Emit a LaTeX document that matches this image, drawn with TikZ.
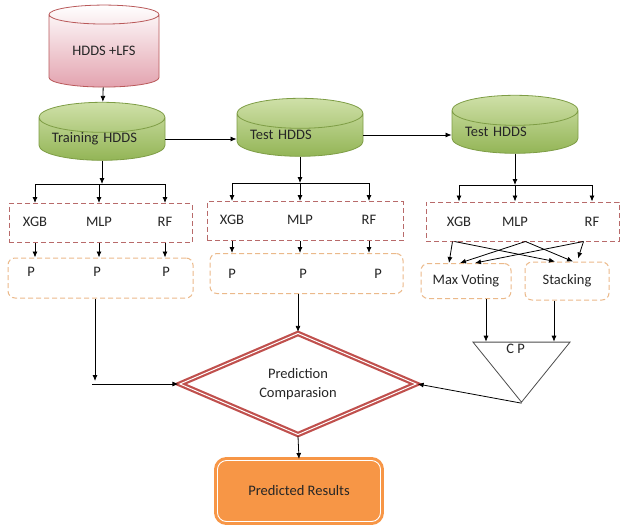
\documentclass[tikz,border=0pt]{standalone}
\usepackage{fontspec}
\setmainfont{Carlito}
\usetikzlibrary{shapes.geometric,arrows.meta}

\definecolor{pinkdb}{HTML}{E3A3AF}
\definecolor{reddb}{HTML}{B9595A}
\definecolor{greentop}{HTML}{CFE0A8}
\definecolor{greendb}{HTML}{93B556}
\definecolor{greenline}{HTML}{7E9D45}
\definecolor{modeldash}{HTML}{B86A6A}
\definecolor{preddash}{HTML}{EBB98A}
\definecolor{cmpred}{HTML}{C0504D}
\definecolor{resorange}{HTML}{F79646}
\definecolor{textgrey}{HTML}{262626}

\tikzset{
    >={Latex[length=6pt,width=5pt]},
    every node/.style={font=\fontsize{14.5}{19}\selectfont, text=textgrey},
    db/.style={cylinder, shape border rotate=90, aspect=0.3, inner sep=0pt,
        minimum width=126pt, minimum height=58pt},
    pinkdb/.style={db, minimum width=110pt, minimum height=82pt,
        draw=reddb, top color=white, bottom color=pinkdb},
    greendb/.style={db, draw=greenline, top color=greentop, bottom color=greendb,
        text width=100pt, align=left},
    mbox/.style={draw=modeldash, dash pattern=on 5pt off 3pt, line width=1pt,
        minimum height=39pt},
    pbox/.style={draw=preddash, dash pattern=on 5pt off 3pt, line width=1pt,
        rounded corners=7pt, minimum height=40pt},
    lbl/.style={inner sep=1pt},
    cmp/.style={diamond, aspect=2.3, inner sep=0pt, minimum width=237pt,
        minimum height=102pt, align=center, draw=cmpred, line width=2.2pt,
        double=white, double distance=1pt},
    cpshape/.style={isosceles triangle, shape border rotate=270,
        isosceles triangle stretches, minimum width=97pt, minimum height=60pt,
        inner sep=0pt, draw=black!70, line width=0.8pt},
    res/.style={rounded corners=9pt, fill=resorange, draw=resorange,
        line width=3pt, double=white, double distance=0.9pt,
        minimum width=163pt, minimum height=61pt}
}

\begin{document}
\begin{tikzpicture}[x=1pt,y=-1pt,line width=0.8pt]
            \useasboundingbox (0,0) rectangle (622,528);

            % data sets
            \node[pinkdb] (lfs) at (104,51) {HDDS +LFS};
            \node[greendb] (trn) at (102,139) {Training HDDS};
            \node[greendb] (tst1) at (300,135) {Test HDDS};
            \node[greendb] (tst2) at (515,132) {Test HDDS};

            \draw[->] (lfs) to (trn);
            \draw[->] (trn.east) to (trn.east -| tst1.west);
            \draw[->] (tst1.east) to (tst1.east -| tst2.west);

            % column 1
            \node[mbox, minimum width=183pt] (mb1) at (100.5,223) {};
            \node[lbl] (xgb1) at (35,222) {XGB};
            \node[lbl] (mlp1) at (99,222) {MLP};
            \node[lbl] (rf1) at (165,222) {RF};
            \node[pbox, minimum width=185pt] (pb1) at (100.5,278) {};
            \node[lbl] (p11) at (31,272) {P};
            \node[lbl] (p12) at (97,272) {P};
            \node[lbl] (p13) at (166,272) {P};

            \coordinate (j1) at (100,184);
            \draw[->] (trn.south) to (trn.south |- j1);
            \draw (xgb1 |- j1) -- (rf1 |- j1);
            \draw[->] (xgb1 |- j1) to (xgb1 |- mb1.north);
            \draw[->] (mlp1 |- j1) to (mlp1 |- mb1.north);
            \draw[->] (rf1 |- j1) to (rf1 |- mb1.north);
            \draw[->] (xgb1 |- mb1.south) to (xgb1 |- pb1.north);
            \draw[->] (mlp1 |- mb1.south) to (mlp1 |- pb1.north);
            \draw[->] (rf1 |- mb1.south) to (rf1 |- pb1.north);

            % column 2
            \node[mbox, minimum width=196pt] (mb2) at (305,221) {};
            \node[lbl] (xgb2) at (232,220) {XGB};
            \node[lbl] (mlp2) at (300,220) {MLP};
            \node[lbl] (rf2) at (369,220) {RF};
            \node[pbox, minimum width=193pt] (pb2) at (306.5,273.5) {};
            \node[lbl] (p21) at (232,274) {P};
            \node[lbl] (p22) at (303,274) {P};
            \node[lbl] (p23) at (378,274) {P};

            \coordinate (j2) at (300,183);
            \draw[->] (tst1.south) to (tst1.south |- j2);
            \draw (xgb2 |- j2) -- (rf2 |- j2);
            \draw[->] (xgb2 |- j2) to (xgb2 |- mb2.north);
            \draw[->] (mlp2 |- j2) to (mlp2 |- mb2.north);
            \draw[->] (rf2 |- j2) to (rf2 |- mb2.north);
            \draw[->] (xgb2 |- mb2.south) to (xgb2 |- pb2.north);
            \draw[->] (mlp2 |- mb2.south) to (mlp2 |- pb2.north);
            \draw[->] (rf2 |- mb2.south) to (rf2 |- pb2.north);

            % column 3
            \node[mbox, minimum width=193pt] (mb3) at (522.5,221.5) {};
            \node[lbl] (xgb3) at (459,222) {XGB};
            \node[lbl] (mlp3) at (515,222) {MLP};
            \node[lbl] (rf3) at (592,222) {RF};
            \node[pbox, minimum width=90pt, minimum height=35pt] (mv) at (466,281) {Max Voting};
            \node[pbox, minimum width=84pt, minimum height=38pt] (st) at (567,281) {Stacking};
            \node[cpshape] (cp) at (521.5,358) {\raisebox{5pt}[0pt][0pt]{C P\hspace{12pt}}};

            \coordinate (j3) at (515,185);
            \draw[->] (tst2.south) to (tst2.south |- j3);
            \draw (xgb3 |- j3) -- (rf3 |- j3);
            \draw[->] (xgb3 |- j3) to (xgb3 |- mb3.north);
            \draw[->] (mlp3 |- j3) to (mlp3 |- mb3.north);
            \draw[->] (rf3 |- j3) to (rf3 |- mb3.north);
            \draw[->] ([xshift=-70pt]mb3.south) to ([xshift=-17pt]mv.north);
            \draw[->] ([xshift=-68pt]mb3.south) to ([xshift=-12pt]st.north);
            \draw[->] ([xshift=3pt]mb3.south) to ([xshift=-6pt]mv.north);
            \draw[->] ([xshift=3pt]mb3.south) to ([xshift=6pt]st.north);
            \draw[->] ([xshift=61pt]mb3.south) to ([xshift=9pt]mv.north);
            \draw[->] ([xshift=61pt]mb3.south) to ([xshift=11pt,yshift=3pt]st.north);
            \draw[->] ([xshift=20pt]mv.south) to ([xshift=20pt]mv.south |- cp.lower side);
            \draw[->] ([xshift=-13pt]st.south) to ([xshift=-13pt]st.south |- cp.lower side);

            % comparison and result
            \node[cmp] (pc) at (298,384) {Prediction\\Comparasion};
            \node[res] (pr) at (299,491) {Predicted Results};

            \coordinate (k1) at (95,384);
            \draw[->] (pb1.south -| k1) to ([yshift=3pt]k1);
            \draw[->] ([xshift=-3pt]k1) to (pc.west);
            \draw[->] (pb2.south -| pc.north) to (pc.north);
            \draw[->] (cp.apex) to (pc.east);
            \draw[->] (pc.south) to (pr.north);
        \end{tikzpicture}
\end{document}
